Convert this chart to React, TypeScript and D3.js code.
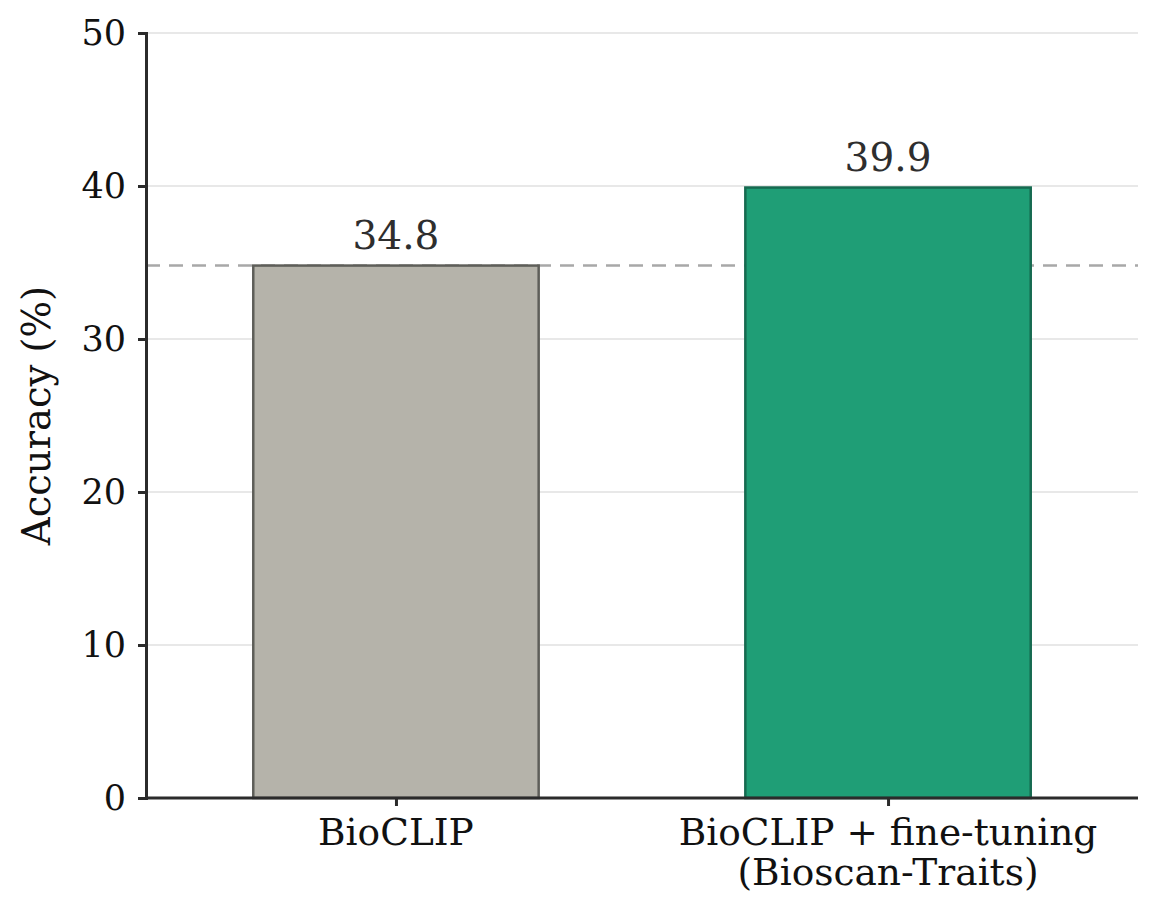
import { useEffect, useRef } from "react"
import * as d3 from "d3"

const categories = ["BioCLIP", "BioCLIP + fine-tuning\n(Bioscan-Traits)"]
const accuracy = [34.8, 39.9]
const fills = ["#b5b3aa", "#1f9e76"]
const strokes = ["#5e5e59", "#166a50"]
const yTicks = [0, 10, 20, 30, 40, 50]
const baselineValue = 34.8

export default function App() {
  const svgRef = useRef<SVGSVGElement>(null)

  useEffect(() => {
    if (!svgRef.current) return
    const svg = d3.select(svgRef.current)
    svg.selectAll("*").remove()

    const width = 1159
    const height = 903
    const margin = { top: 33, right: 21, bottom: 105, left: 146 }
    const font = "'DejaVu Serif', serif"

    const x = d3
      .scaleLinear()
      .domain([-0.508, 1.508])
      .range([margin.left, width - margin.right])
    const y = d3
      .scaleLinear()
      .domain([0, 50])
      .range([height - margin.bottom, margin.top])
    const barWidth = 0.58

    // grid lines
    svg
      .append("g")
      .selectAll("line")
      .data(yTicks.filter((t) => t > 0))
      .enter()
      .append("line")
      .attr("x1", margin.left)
      .attr("x2", width - margin.right)
      .attr("y1", (d) => y(d))
      .attr("y2", (d) => y(d))
      .attr("stroke", "#d2d2d2")
      .attr("stroke-width", 1.2)

    // baseline reference line
    svg
      .append("line")
      .attr("x1", margin.left)
      .attr("x2", width - margin.right)
      .attr("y1", y(baselineValue))
      .attr("y2", y(baselineValue))
      .attr("stroke", "#a8a8a8")
      .attr("stroke-width", 2.5)
      .attr("stroke-dasharray", "14,9")

    // bars
    svg
      .append("g")
      .selectAll("rect")
      .data(accuracy)
      .enter()
      .append("rect")
      .attr("x", (_, i) => x(i - barWidth / 2))
      .attr("y", (d) => y(d))
      .attr("width", x(barWidth) - x(0))
      .attr("height", (d) => y(0) - y(d))
      .attr("fill", (_, i) => fills[i])
      .attr("stroke", (_, i) => strokes[i])
      .attr("stroke-width", 2.5)

    // value labels
    svg
      .append("g")
      .selectAll("text")
      .data(accuracy)
      .enter()
      .append("text")
      .attr("x", (_, i) => x(i))
      .attr("y", (d) => y(d) - 17)
      .attr("text-anchor", "middle")
      .attr("font-family", font)
      .attr("font-size", 39)
      .attr("fill", "#2e2e2e")
      .text((d) => d.toFixed(1))

    // y axis
    const yAxis = svg
      .append("g")
      .attr("transform", `translate(${margin.left},0)`)
      .call(d3.axisLeft(y).tickValues(yTicks).tickSize(8).tickPadding(12))
    yAxis.select(".domain").attr("stroke", "#2b2b2b").attr("stroke-width", 3)
    yAxis.selectAll(".tick line").attr("stroke", "#2b2b2b").attr("stroke-width", 3)
    yAxis
      .selectAll(".tick text")
      .attr("font-family", font)
      .attr("font-size", 35)
      .attr("fill", "#111")

    // x axis
    const xAxis = svg
      .append("g")
      .attr("transform", `translate(0,${height - margin.bottom})`)
      .call(
        d3
          .axisBottom(x)
          .tickValues([0, 1])
          .tickSize(8)
          .tickFormat(() => ""),
      )
    xAxis
      .select(".domain")
      .attr("d", `M${margin.left},0H${width - margin.right}`)
      .attr("stroke", "#2b2b2b")
      .attr("stroke-width", 3)
    xAxis.selectAll(".tick line").attr("stroke", "#2b2b2b").attr("stroke-width", 3)

    // x category labels (multi-line)
    categories.forEach((c, i) => {
      const t = svg
        .append("text")
        .attr("text-anchor", "middle")
        .attr("font-family", font)
        .attr("font-size", 37.5)
        .attr("fill", "#111")
      c.split("\n").forEach((line, j) => {
        t.append("tspan")
          .attr("x", x(i))
          .attr("y", 845 + j * 40)
          .text(line)
      })
    })

    // y axis title
    svg
      .append("text")
      .attr("transform", `translate(50,${(y(0) + y(50)) / 2}) rotate(-90)`)
      .attr("text-anchor", "middle")
      .attr("font-family", font)
      .attr("font-size", 38.5)
      .attr("fill", "#111")
      .text("Accuracy (%)")
  }, [])

  return (
    <svg
      ref={svgRef}
      width={1159}
      height={903}
      style={{ position: "absolute", left: 0, top: 0, background: "#fff" }}
    />
  )
}
